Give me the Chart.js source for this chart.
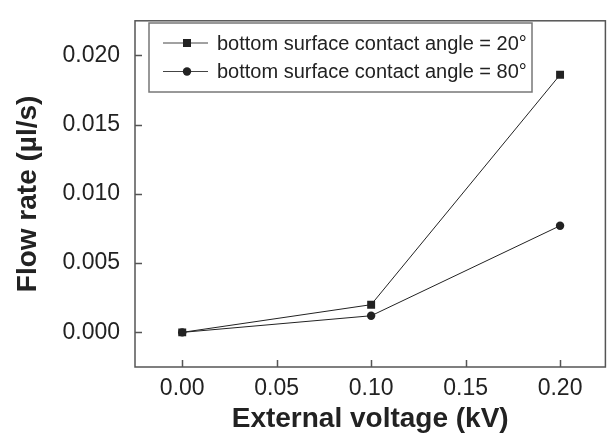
<!DOCTYPE html>
<html>
<head>
<meta charset="utf-8">
<script src="https://cdn.jsdelivr.net/npm/chart.js@4"></script>
<style>
  html, body { margin: 0; padding: 0; background: #fff; }
</style>
</head>
<body>
<canvas id="grafico" width="611" height="436"></canvas>
<script>
// datos
const voltajes = [0.00, 0.10, 0.20];
const flujo20 = [0.0000, 0.0020, 0.0186];
const flujo80 = [0.0000, 0.0012, 0.0077];
const etiquetas = ['bottom surface contact angle = 20\u00B0', 'bottom surface contact angle = 80\u00B0'];
const ticksX = [0.00, 0.05, 0.10, 0.15, 0.20];
const ticksY = [0.000, 0.005, 0.010, 0.015, 0.020];

const TINTA = '#222';
const MARCO = '#555';

// marco completo, marcas hacia dentro y leyenda dentro del área
const marcoPlugin = {
  id: 'marco',
  afterDraw(chart) {
    const ctx = chart.ctx;
    const a = chart.chartArea;
    const sx = chart.scales.x, sy = chart.scales.y;
    ctx.save();
    ctx.strokeStyle = MARCO;
    ctx.lineWidth = 1.5;
    ctx.strokeRect(a.left, a.top, a.right - a.left, a.bottom - a.top);
    ctx.beginPath();
    ticksX.forEach(v => {
      const px = Math.round(sx.getPixelForValue(v)) + 0.5;
      ctx.moveTo(px, a.bottom); ctx.lineTo(px, a.bottom - 7);
    });
    ticksY.forEach(v => {
      const py = Math.round(sy.getPixelForValue(v)) + 0.5;
      ctx.moveTo(a.left, py); ctx.lineTo(a.left + 7, py);
    });
    ctx.stroke();

    // leyenda
    const caja = { x: 149, y: 23, w: 383, h: 69 };
    ctx.fillStyle = '#fff';
    ctx.fillRect(caja.x, caja.y, caja.w, caja.h);
    ctx.strokeStyle = '#777';
    ctx.lineWidth = 1.5;
    ctx.strokeRect(caja.x, caja.y, caja.w, caja.h);
    ctx.font = '20px "Liberation Sans", Arial, sans-serif';
    ctx.textBaseline = 'middle';
    chart.data.datasets.forEach((ds, i) => {
      const y = 43 + i * 28.5;
      ctx.strokeStyle = '#444';
      ctx.lineWidth = 1;
      ctx.beginPath();
      ctx.moveTo(163, y); ctx.lineTo(208, y);
      ctx.stroke();
      ctx.fillStyle = TINTA;
      if (ds.pointStyle === 'rect') {
        ctx.fillRect(183, y - 4, 8, 8);
      } else {
        ctx.beginPath();
        ctx.arc(187, y, 4.2, 0, Math.PI * 2);
        ctx.fill();
      }
      ctx.fillText(ds.label, 217, y + 1);
    });
    ctx.restore();
  }
};

const ctx = document.getElementById('grafico');
new Chart(ctx, {
  type: 'line',
  data: {
    datasets: [
      {
        label: etiquetas[0],
        data: voltajes.map((v, i) => ({ x: v, y: flujo20[i] })),
        borderColor: TINTA,
        backgroundColor: TINTA,
        borderWidth: 1,
        pointStyle: 'rect',
        pointRadius: 5.6,
        pointBorderWidth: 0,
        tension: 0
      },
      {
        label: etiquetas[1],
        data: voltajes.map((v, i) => ({ x: v, y: flujo80[i] })),
        borderColor: TINTA,
        backgroundColor: TINTA,
        borderWidth: 1,
        pointStyle: 'circle',
        pointRadius: 4.2,
        pointBorderWidth: 0,
        tension: 0
      }
    ]
  },
  options: {
    responsive: false,
    animation: false,
    layout: { padding: { top: 7, right: 4, left: 0, bottom: 0 } },
    plugins: {
      legend: { display: false },
      tooltip: { enabled: false }
    },
    scales: {
      x: {
        type: 'linear',
        min: -0.025,
        max: 0.224,
        afterBuildTicks: (scale) => { scale.ticks = ticksX.map(v => ({ value: v })); },
        afterFit: (scale) => { scale.height = 69; },
        grid: { display: false },
        border: { display: false },
        ticks: {
          padding: 0,
          color: TINTA,
          font: { family: '"Liberation Sans", Arial, sans-serif', size: 23 },
          callback: (v) => Number(v).toFixed(2)
        },
        title: {
          display: true,
          text: 'External voltage (kV)',
          color: TINTA,
          padding: { top: 0, bottom: 0 },
          font: { family: '"Liberation Sans", Arial, sans-serif', size: 28, weight: 'bold' }
        }
      },
      y: {
        type: 'linear',
        min: -0.0025,
        max: 0.0225,
        afterBuildTicks: (scale) => { scale.ticks = ticksY.map(v => ({ value: v })); },
        afterFit: (scale) => { scale.width = 135; },
        grid: { display: false },
        border: { display: false },
        ticks: {
          padding: 7,
          color: TINTA,
          font: { family: '"Liberation Sans", Arial, sans-serif', size: 23 },
          callback: (v) => Number(v).toFixed(3)
        },
        title: {
          display: true,
          text: 'Flow rate (\u00B5l/s)',
          color: TINTA,
          padding: { top: 11, bottom: 0 },
          font: { family: '"Liberation Sans", Arial, sans-serif', size: 28, weight: 'bold' }
        }
      }
    }
  },
  plugins: [marcoPlugin]
});
</script>
</body>
</html>
